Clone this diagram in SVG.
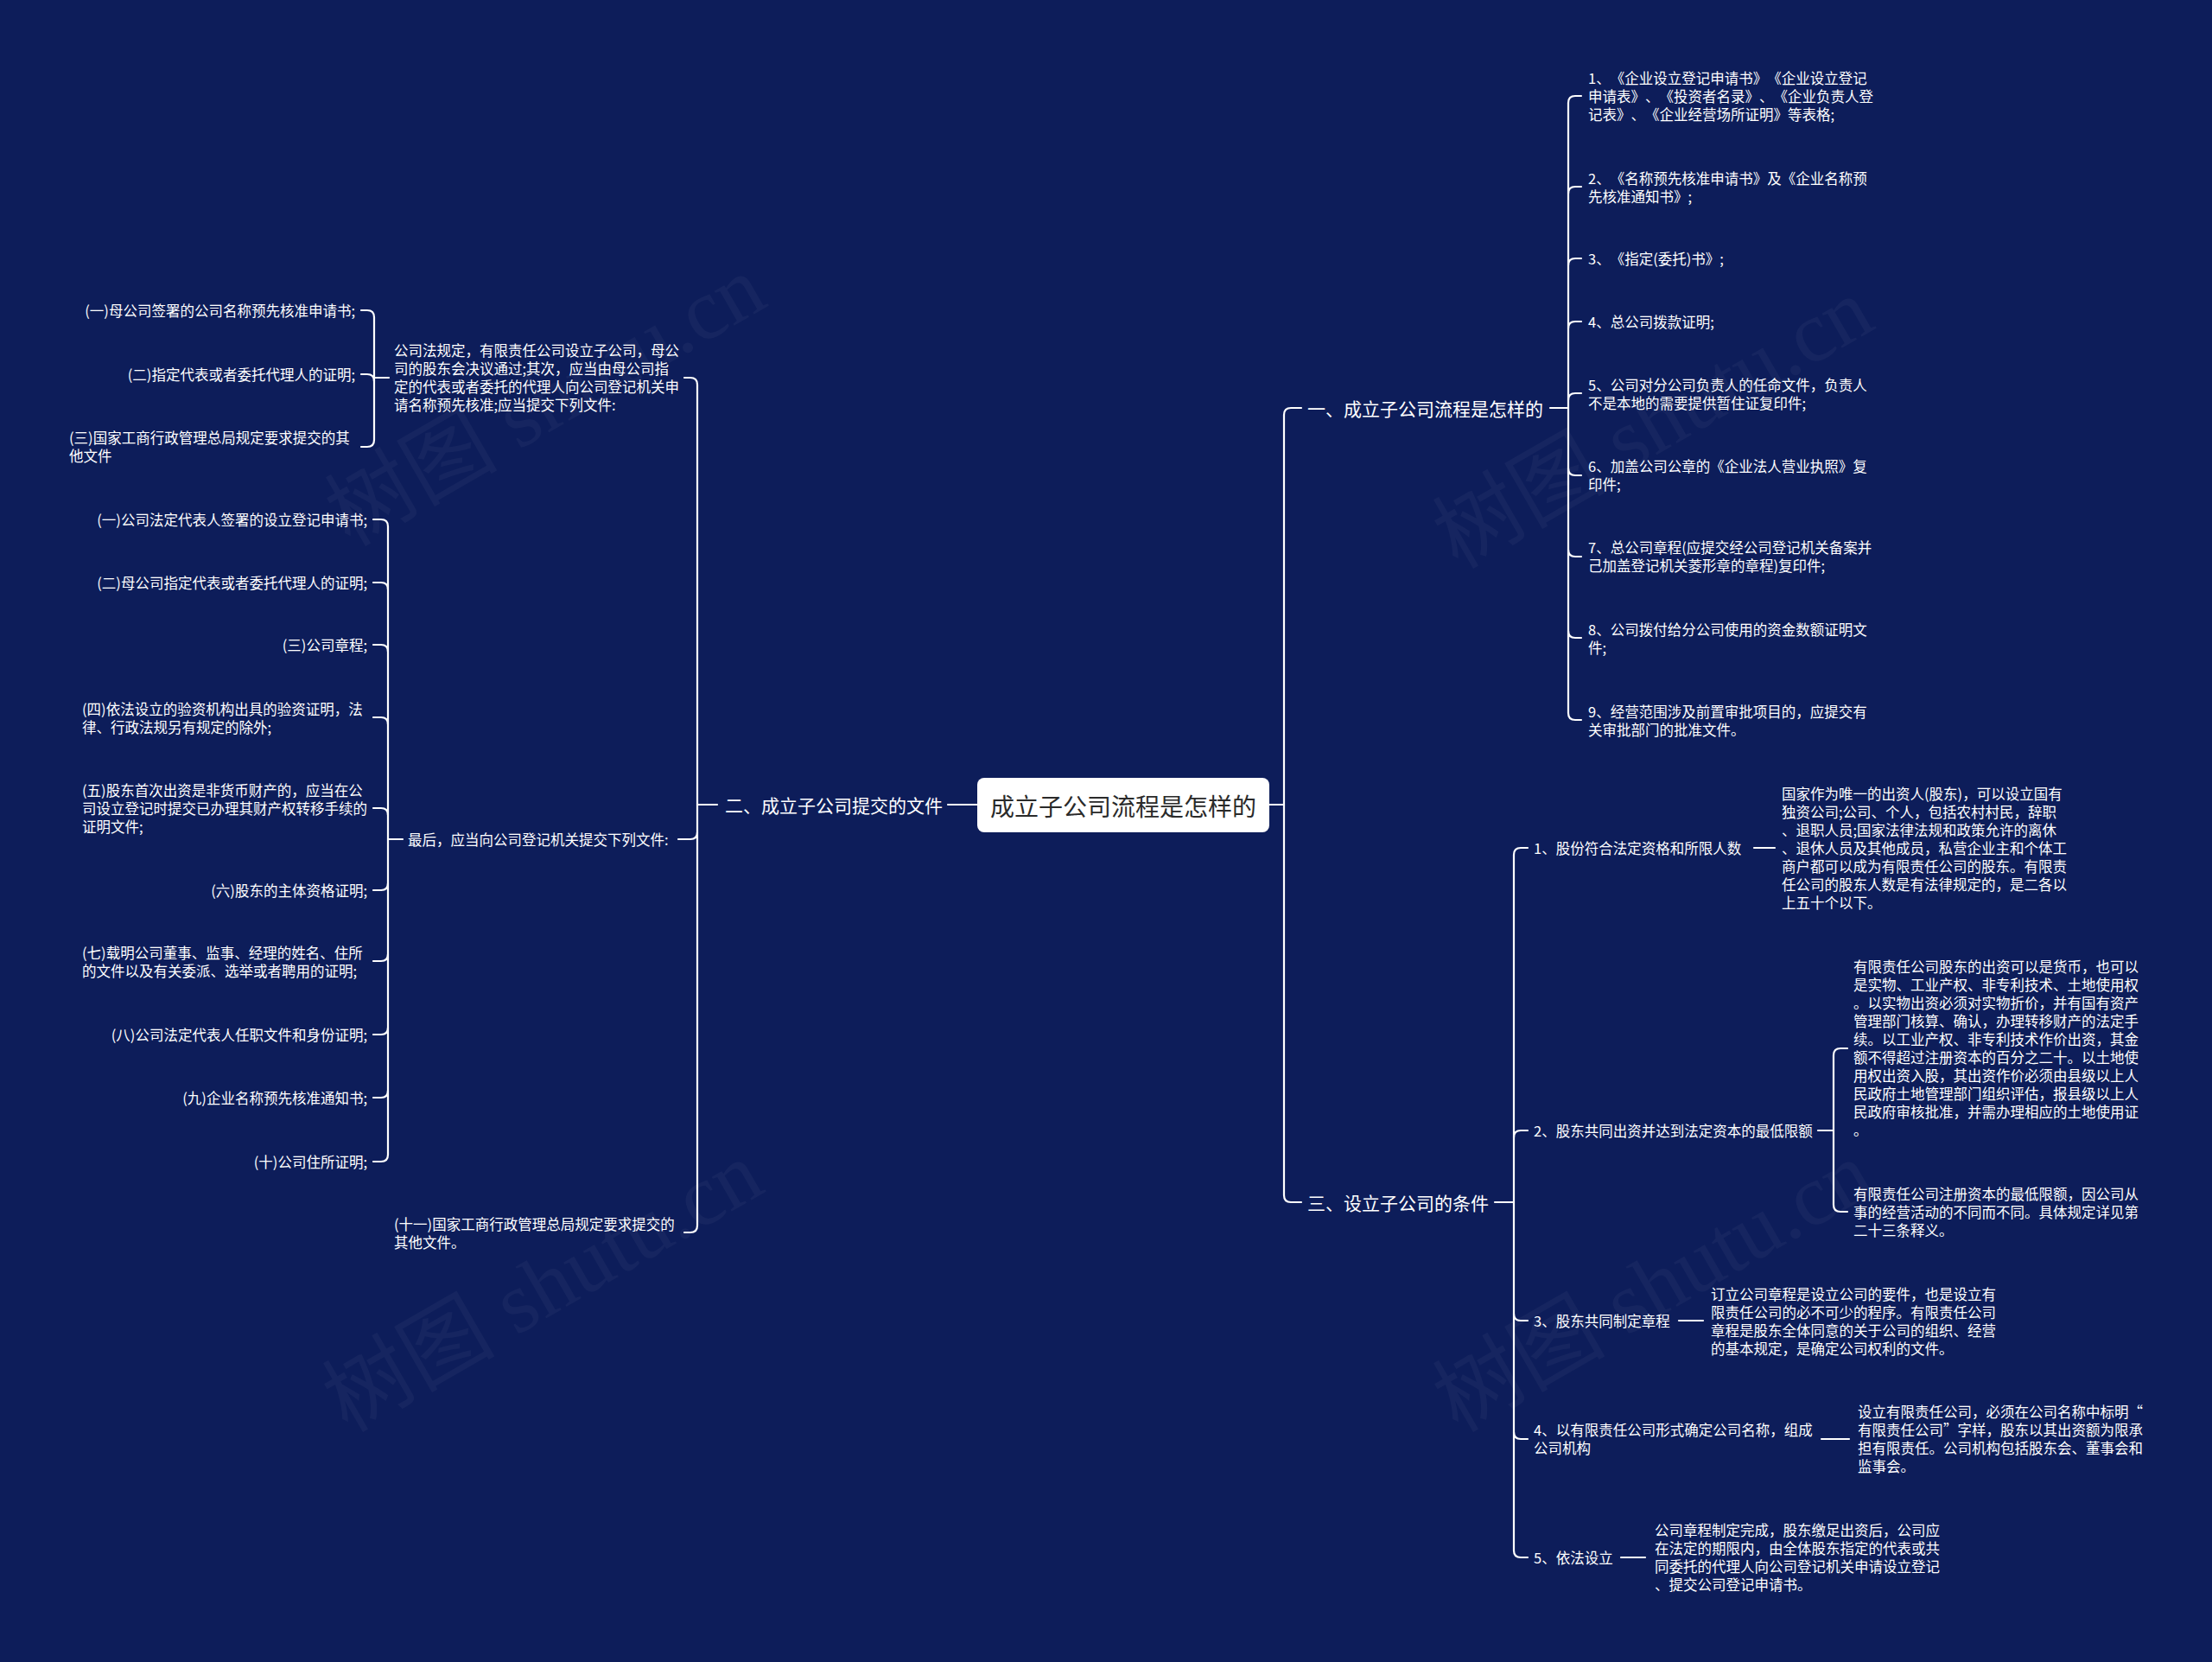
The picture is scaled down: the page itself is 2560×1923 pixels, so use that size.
<svg xmlns="http://www.w3.org/2000/svg" width="2560" height="1923" viewBox="0 0 2560 1923">
<style>
.t{font-family:"Noto Sans CJK SC","Noto Sans",sans-serif;font-size:16.5px;fill:#ffffff;dominant-baseline:central;text-spacing-trim:space-all}
.h{font-family:"Noto Sans CJK SC","Noto Sans",sans-serif;font-size:21px;fill:#ffffff;dominant-baseline:central;text-spacing-trim:space-all}
.r{font-family:"Noto Sans CJK SC","Noto Sans",sans-serif;font-size:28px;fill:#2a2a2a;dominant-baseline:central}
.e{text-anchor:end}
.c{fill:none;stroke:#ffffff;stroke-width:2.2;stroke-linecap:round;stroke-linejoin:round}
.wm{font-family:"Liberation Serif","Noto Sans CJK SC",serif;font-size:100px;fill:#ffffff;opacity:0.035}
</style>
<rect x="0" y="0" width="2560" height="1923" fill="#0d1d5a"/>
<g id="watermarks">
<text class="wm" x="648" y="493" text-anchor="middle" transform="rotate(-30 648 493)">树图 shutu.cn</text>
<text class="wm" x="645" y="1518" text-anchor="middle" transform="rotate(-30 645 1518)">树图 shutu.cn</text>
<text class="wm" x="1930" y="519" text-anchor="middle" transform="rotate(-30 1930 519)">树图 shutu.cn</text>
<text class="wm" x="1930" y="1518" text-anchor="middle" transform="rotate(-30 1930 1518)">树图 shutu.cn</text>
</g>
<g id="connectors">
<path class="c" d="M1469,931 H1486"/>
<path class="c" d="M1506,472 H1494 Q1486,472 1486,480 V1383 Q1486,1391 1494,1391 H1506"/>
<path class="c" d="M1131,931 H1097"/>
<path class="c" d="M830,931 H807"/>
<path class="c" d="M792,437 H799 Q807,437 807,445 V1418 Q807,1426 799,1426 H792"/>
<path class="c" d="M785,971 H799 Q807,971 807,963"/>
<path class="c" d="M1794,472 H1815"/>
<path class="c" d="M1830,111 H1823 Q1815,111 1815,119 V825 Q1815,833 1823,833 H1830"/>
<path class="c" d="M1830,216 H1823 Q1815,216 1815,224"/>
<path class="c" d="M1830,299 H1823 Q1815,299 1815,307"/>
<path class="c" d="M1830,372 H1823 Q1815,372 1815,380"/>
<path class="c" d="M1830,455 H1823 Q1815,455 1815,463"/>
<path class="c" d="M1830,550 H1823 Q1815,550 1815,542"/>
<path class="c" d="M1830,644 H1823 Q1815,644 1815,636"/>
<path class="c" d="M1830,738 H1823 Q1815,738 1815,730"/>
<path class="c" d="M1730,1391 H1752"/>
<path class="c" d="M1768,981 H1760 Q1752,981 1752,989 V1794 Q1752,1802 1760,1802 H1768"/>
<path class="c" d="M1768,1308 H1760 Q1752,1308 1752,1316"/>
<path class="c" d="M1768,1528 H1760 Q1752,1528 1752,1520"/>
<path class="c" d="M1768,1665 H1760 Q1752,1665 1752,1657"/>
<path class="c" d="M2030,981 H2054"/>
<path class="c" d="M2104,1308 H2122"/>
<path class="c" d="M2138,1213 H2130 Q2122,1213 2122,1221 V1394 Q2122,1402 2130,1402 H2138"/>
<path class="c" d="M1943,1528 H1971"/>
<path class="c" d="M2108,1665 H2140"/>
<path class="c" d="M1876,1802 H1904"/>
<path class="c" d="M433,437 H450"/>
<path class="c" d="M418,359 H425 Q433,359 433,367 V509 Q433,517 425,517 H418"/>
<path class="c" d="M418,433 H425 Q433,433 433,441"/>
<path class="c" d="M449,971 H466"/>
<path class="c" d="M432,601 H441 Q449,601 449,609 V1336 Q449,1344 441,1344 H432"/>
<path class="c" d="M432,674 H441 Q449,674 449,682"/>
<path class="c" d="M432,746 H441 Q449,746 449,754"/>
<path class="c" d="M432,830 H441 Q449,830 449,838"/>
<path class="c" d="M432,935 H441 Q449,935 449,943"/>
<path class="c" d="M432,1030 H441 Q449,1030 449,1022"/>
<path class="c" d="M432,1112 H441 Q449,1112 449,1104"/>
<path class="c" d="M432,1197 H441 Q449,1197 449,1189"/>
<path class="c" d="M432,1270 H441 Q449,1270 449,1262"/>
</g>
<g id="root">
<rect x="1131" y="900" width="338" height="63" rx="8" fill="#ffffff"/>
<text class="r" x="1300" y="932" text-anchor="middle">成立子公司流程是怎样的</text>
</g>
<g id="n1"><text class="h" x="1513" y="472">一、成立子公司流程是怎样的</text></g>
<g id="n2"><text class="h e" x="1091" y="931">二、成立子公司提交的文件</text></g>
<g id="n3"><text class="h" x="1513" y="1391">三、设立子公司的条件</text></g>
<g id="n1-1"><text class="t" x="1838" y="90">1、《企业设立登记申请书》《企业设立登记</text><text class="t" x="1838" y="111">申请表》、《投资者名录》、《企业负责人登</text><text class="t" x="1838" y="132">记表》、《企业经营场所证明》等表格;</text></g>
<g id="n1-2"><text class="t" x="1838" y="206">2、《名称预先核准申请书》及《企业名称预</text><text class="t" x="1838" y="227">先核准通知书》;</text></g>
<g id="n1-3"><text class="t" x="1838" y="299">3、《指定(委托)书》;</text></g>
<g id="n1-4"><text class="t" x="1838" y="372">4、总公司拨款证明;</text></g>
<g id="n1-5"><text class="t" x="1838" y="445">5、公司对分公司负责人的任命文件，负责人</text><text class="t" x="1838" y="466">不是本地的需要提供暂住证复印件;</text></g>
<g id="n1-6"><text class="t" x="1838" y="539">6、加盖公司公章的《企业法人营业执照》复</text><text class="t" x="1838" y="560">印件;</text></g>
<g id="n1-7"><text class="t" x="1838" y="633">7、总公司章程(应提交经公司登记机关备案并</text><text class="t" x="1838" y="654">己加盖登记机关菱形章的章程)复印件;</text></g>
<g id="n1-8"><text class="t" x="1838" y="728">8、公司拨付给分公司使用的资金数额证明文</text><text class="t" x="1838" y="749">件;</text></g>
<g id="n1-9"><text class="t" x="1838" y="823">9、经营范围涉及前置审批项目的，应提交有</text><text class="t" x="1838" y="844">关审批部门的批准文件。</text></g>
<g id="n3-1"><text class="t" x="1775" y="981">1、股份符合法定资格和所限人数</text></g>
<g id="n3-1-1"><text class="t" x="2062" y="918">国家作为唯一的出资人(股东)，可以设立国有</text><text class="t" x="2062" y="939">独资公司;公司、个人，包括农村村民，辞职</text><text class="t" x="2062" y="960">、退职人员;国家法律法规和政策允许的离休</text><text class="t" x="2062" y="981">、退休人员及其他成员，私营企业主和个体工</text><text class="t" x="2062" y="1002">商户都可以成为有限责任公司的股东。有限责</text><text class="t" x="2062" y="1023">任公司的股东人数是有法律规定的，是二各以</text><text class="t" x="2062" y="1044">上五十个以下。</text></g>
<g id="n3-2"><text class="t" x="1775" y="1308">2、股东共同出资并达到法定资本的最低限额</text></g>
<g id="n3-2-1"><text class="t" x="2145" y="1118">有限责任公司股东的出资可以是货币，也可以</text><text class="t" x="2145" y="1139">是实物、工业产权、非专利技术、土地使用权</text><text class="t" x="2145" y="1160">。以实物出资必须对实物折价，并有国有资产</text><text class="t" x="2145" y="1181">管理部门核算、确认，办理转移财产的法定手</text><text class="t" x="2145" y="1202">续。以工业产权、非专利技术作价出资，其金</text><text class="t" x="2145" y="1223">额不得超过注册资本的百分之二十。以土地使</text><text class="t" x="2145" y="1244">用权出资入股，其出资作价必须由县级以上人</text><text class="t" x="2145" y="1265">民政府土地管理部门组织评估，报县级以上人</text><text class="t" x="2145" y="1286">民政府审核批准，并需办理相应的土地使用证</text><text class="t" x="2145" y="1307">。</text></g>
<g id="n3-2-2"><text class="t" x="2145" y="1381">有限责任公司注册资本的最低限额，因公司从</text><text class="t" x="2145" y="1402">事的经营活动的不同而不同。具体规定详见第</text><text class="t" x="2145" y="1423">二十三条释义。</text></g>
<g id="n3-3"><text class="t" x="1775" y="1528">3、股东共同制定章程</text></g>
<g id="n3-3-1"><text class="t" x="1980" y="1497">订立公司章程是设立公司的要件，也是设立有</text><text class="t" x="1980" y="1518">限责任公司的必不可少的程序。有限责任公司</text><text class="t" x="1980" y="1539">章程是股东全体同意的关于公司的组织、经营</text><text class="t" x="1980" y="1560">的基本规定，是确定公司权利的文件。</text></g>
<g id="n3-4"><text class="t" x="1775" y="1654">4、以有限责任公司形式确定公司名称，组成</text><text class="t" x="1775" y="1675">公司机构</text></g>
<g id="n3-4-1"><text class="t" x="2150" y="1633">设立有限责任公司，必须在公司名称中标明“</text><text class="t" x="2150" y="1654">有限责任公司”字样，股东以其出资额为限承</text><text class="t" x="2150" y="1675">担有限责任。公司机构包括股东会、董事会和</text><text class="t" x="2150" y="1696">监事会。</text></g>
<g id="n3-5"><text class="t" x="1775" y="1802">5、依法设立</text></g>
<g id="n3-5-1"><text class="t" x="1915" y="1770">公司章程制定完成，股东缴足出资后，公司应</text><text class="t" x="1915" y="1791">在法定的期限内，由全体股东指定的代表或共</text><text class="t" x="1915" y="1812">同委托的代理人向公司登记机关申请设立登记</text><text class="t" x="1915" y="1833">、提交公司登记申请书。</text></g>
<g id="n2-1"><text class="t" x="456" y="405">公司法规定，有限责任公司设立子公司，母公</text><text class="t" x="456" y="426">司的股东会决议通过;其次，应当由母公司指</text><text class="t" x="456" y="447">定的代表或者委托的代理人向公司登记机关申</text><text class="t" x="456" y="468">请名称预先核准;应当提交下列文件:</text></g>
<g id="n2-1-1"><text class="t e" x="411" y="359">(一)母公司签署的公司名称预先核准申请书;</text></g>
<g id="n2-1-2"><text class="t e" x="411" y="433">(二)指定代表或者委托代理人的证明;</text></g>
<g id="n2-1-3"><text class="t" x="80" y="506">(三)国家工商行政管理总局规定要求提交的其</text><text class="t" x="80" y="527">他文件</text></g>
<g id="n2-2"><text class="t" x="472" y="971">最后，应当向公司登记机关提交下列文件:</text></g>
<g id="n2-2-1"><text class="t e" x="425" y="601">(一)公司法定代表人签署的设立登记申请书;</text></g>
<g id="n2-2-2"><text class="t e" x="425" y="674">(二)母公司指定代表或者委托代理人的证明;</text></g>
<g id="n2-2-3"><text class="t e" x="425" y="746">(三)公司章程;</text></g>
<g id="n2-2-4"><text class="t" x="95" y="820">(四)依法设立的验资机构出具的验资证明，法</text><text class="t" x="95" y="841">律、行政法规另有规定的除外;</text></g>
<g id="n2-2-5"><text class="t" x="95" y="914">(五)股东首次出资是非货币财产的，应当在公</text><text class="t" x="95" y="935">司设立登记时提交已办理其财产权转移手续的</text><text class="t" x="95" y="956">证明文件;</text></g>
<g id="n2-2-6"><text class="t e" x="425" y="1030">(六)股东的主体资格证明;</text></g>
<g id="n2-2-7"><text class="t" x="95" y="1102">(七)载明公司董事、监事、经理的姓名、住所</text><text class="t" x="95" y="1123">的文件以及有关委派、选举或者聘用的证明;</text></g>
<g id="n2-2-8"><text class="t e" x="425" y="1197">(八)公司法定代表人任职文件和身份证明;</text></g>
<g id="n2-2-9"><text class="t e" x="425" y="1270">(九)企业名称预先核准通知书;</text></g>
<g id="n2-2-10"><text class="t e" x="425" y="1344">(十)公司住所证明;</text></g>
<g id="n2-3"><text class="t" x="456" y="1416">(十一)国家工商行政管理总局规定要求提交的</text><text class="t" x="456" y="1437">其他文件。</text></g>
</svg>
